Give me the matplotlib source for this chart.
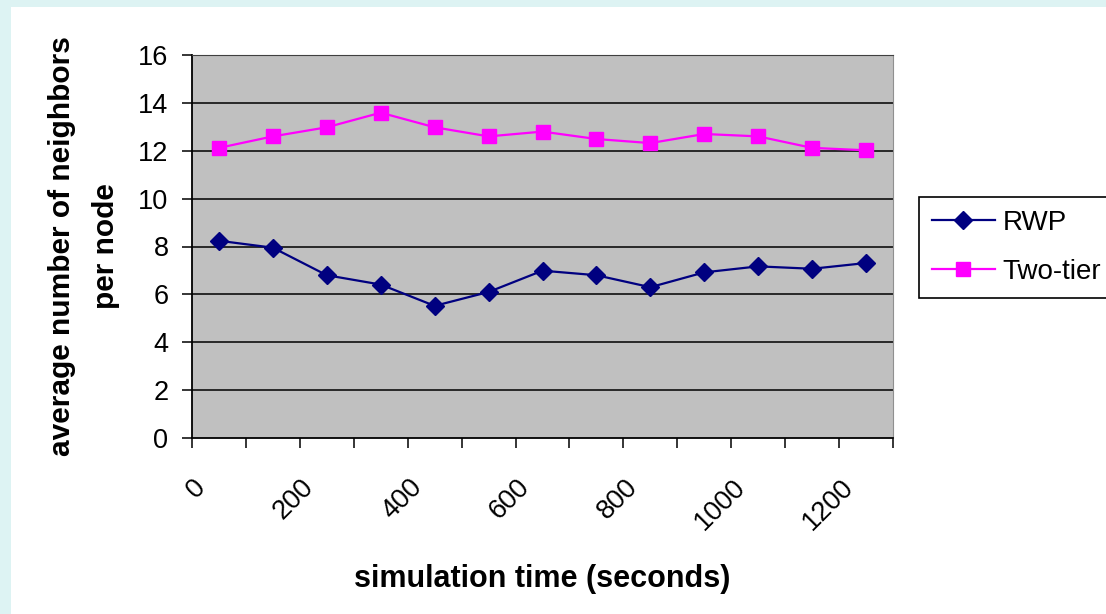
import matplotlib
matplotlib.use("Agg")
import matplotlib.pyplot as plt
import matplotlib.transforms as mtransforms
from matplotlib.patches import Rectangle
import numpy as np

# simulation time of each sample (seconds)
times = [0, 100, 200, 300, 400, 500, 600, 700, 800, 900, 1000, 1100, 1200]
rwp = [8.24, 7.95, 6.8, 6.41, 5.52, 6.1, 6.99, 6.8, 6.3, 6.92, 7.17, 7.07, 7.31]
two_tier = [12.12, 12.6, 12.98, 13.59, 12.98, 12.6, 12.8, 12.49, 12.32, 12.7, 12.6, 12.12, 12.02]
y_ticks = [0, 2, 4, 6, 8, 10, 12, 14, 16]

plt.rcParams['font.family'] = ['Liberation Sans', 'DejaVu Sans']

fig = plt.figure(figsize=(11.06, 6.14), dpi=100)
fig.patch.set_facecolor("white")
# cyan strips on the left and top
fig.add_artist(Rectangle((0, 0), 11 / 1106, 1, transform=fig.transFigure,
                         facecolor="#DDF3F3", edgecolor="none", zorder=-1))
fig.add_artist(Rectangle((0, 1 - 7 / 614), 1, 7 / 614, transform=fig.transFigure,
                         facecolor="#DDF3F3", edgecolor="none", zorder=-1))

ax = fig.add_axes([192 / 1106, 1 - 438 / 614, 701 / 1106, 383 / 614])
ax.set_facecolor("#C0C0C0")

x = np.arange(len(times))
ax.plot(x, rwp, color="#000080", lw=1.6, marker="D", markersize=9,
        markerfacecolor="#000080", markeredgecolor="#000080", label="RWP", zorder=3)
ax.plot(x, two_tier, color="#FF00FF", lw=1.6, marker="s", markersize=9.5,
        markerfacecolor="#FF00FF", markeredgecolor="#FF00FF", label="Two-tier", zorder=3)

ax.set_xlim(-0.5, len(times) - 0.5)
ax.set_ylim(0, 16)
ax.set_yticks(y_ticks)
ax.set_yticklabels([str(v) for v in y_ticks])
for v in y_ticks[1:-1]:
    ax.axhline(v, color="black", lw=1.1, zorder=1)

# labels every other category, tick marks between categories
ax.set_xticks(x[::2])
ax.set_xticklabels([str(t) for t in times[::2]], rotation=45, ha="right", va="top",
                   rotation_mode="anchor")
ax.set_xticks(np.arange(len(times) + 1) - 0.5, minor=True)
ax.tick_params(axis="x", which="major", length=0, pad=26, labelsize=19.5)
ax.tick_params(axis="x", which="minor", length=7, width=1.1, direction="out")
ax.tick_params(axis="y", length=7, width=1.1, pad=10, labelsize=19.5)
offset = mtransforms.ScaledTranslation(-0.26, 0, fig.dpi_scale_trans)
for lab in ax.get_xticklabels():
    lab.set_transform(lab.get_transform() + offset)

for side in ["left", "bottom"]:
    ax.spines[side].set_color("black")
    ax.spines[side].set_linewidth(1.3)
ax.spines["top"].set_color("#404040")
ax.spines["right"].set_color("#909090")

ax.set_xlabel("simulation time (seconds)", fontsize=22, fontweight="bold")
ax.xaxis.set_label_coords(0.5, -0.329)
ax.set_ylabel("average number of neighbors\nper node", fontsize=21.5, fontweight="bold",
              linespacing=1.7)
ax.yaxis.set_label_coords(-0.103, 0.5)

leg = ax.legend(loc="upper left", bbox_to_anchor=(919 / 1106, 1 - 197 / 614),
                bbox_transform=fig.transFigure, borderaxespad=0, fontsize=20,
                frameon=True, fancybox=False, edgecolor="black", framealpha=1,
                handlelength=2.3, handletextpad=0.25, labelspacing=0.85,
                borderpad=0.45)
leg.get_frame().set_linewidth(1.2)

fig.savefig("out.png", dpi=100, facecolor=fig.get_facecolor())
